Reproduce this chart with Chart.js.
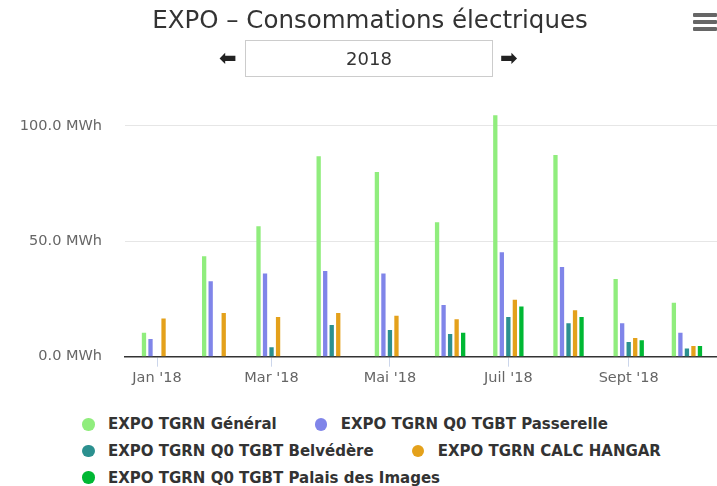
<!DOCTYPE html>
<html>
<head>
<meta charset="utf-8">
<script src="https://cdn.jsdelivr.net/npm/chart.js@4"></script>
<style>
  html, body { margin: 0; padding: 0; background: #fff; }
  body { width: 717px; height: 486px; position: relative; overflow: hidden; font-family: "DejaVu Sans", sans-serif; }
  #title { position: absolute; left: 0; top: 5px; width: 740px; text-align: center; font-size: 24.5px; color: #333; line-height: 30px; white-space: nowrap; }
  #yearbox { position: absolute; left: 245px; top: 40px; width: 246px; height: 35px; border: 1px solid #ccc; text-align: center; line-height: 35px; font-size: 18px; color: #333; }
  .arrow { position: absolute; top: 45px; font-size: 21px; font-weight: bold; color: #222; line-height: 26px; }
  #menu { position: absolute; left: 693px; top: 13px; width: 24px; }
  #menu div { height: 3.5px; background: #666; margin-bottom: 3.5px; border-radius: 1px; }
  #chartWrap { position: absolute; left: 0; top: 0; width: 717px; height: 400px; }
  #legend { position: absolute; left: 82px; top: 411px; font-weight: bold; font-size: 15px; color: #333; }
  .lrow { display: flex; height: 26.7px; align-items: center; white-space: nowrap; }
  .litem { display: flex; align-items: center; margin-right: 38px; flex-shrink: 0; }
  .ldot { display: block; flex: 0 0 12.5px; width: 12.5px; height: 12.5px; min-width: 12.5px; border-radius: 50%; margin-right: 13.5px; }
</style>
</head>
<body>
<div id="chartWrap"><canvas id="c" width="717" height="400"></canvas></div>
<div id="title">EXPO – Consommations électriques</div>
<div class="arrow" id="prev" style="left:219px;">&#x2B05;</div>
<div id="yearbox">2018</div>
<div class="arrow" id="next" style="left:500px;">&#x27A1;</div>
<div id="menu"><div></div><div></div><div></div></div>
<div id="legend"></div>
<script>
// Month start as day-of-year (2018)
const monthDays = [0, 31, 59, 90, 120, 151, 181, 212, 243, 273];
const monthNames = ["Jan '18", "Févr '18", "Mar '18", "Avr '18", "Mai '18", "Juin '18", "Juil '18", "Août '18", "Sept '18", "Oct '18"];
// Axis ticks
const xTickDays = [0, 59, 120, 181, 243];
const xTickLabels = ["Jan '18", "Mar '18", "Mai '18", "Juil '18", "Sept '18"];
const yTickValues = [0, 50, 100];

// Series (MWh)
const seriesNames = ["EXPO TGRN Général", "EXPO TGRN Q0 TGBT Passerelle", "EXPO TGRN Q0 TGBT Belvédère", "EXPO TGRN CALC HANGAR", "EXPO TGRN Q0 TGBT Palais des Images"];
const seriesColors = ["#90ed7d", "#8085e9", "#2b908f", "#e4a11b", "#00b834"];
const general    = [10.4, 43.5, 56.5, 86.9, 80.1, 58.3, 104.6, 87.4, 33.7, 23.4];
const passerelle = [7.7, 32.7, 36.1, 37.1, 36.1, 22.4, 45.3, 38.9, 14.5, 10.4];
const belvedere  = [null, null, 4.1, 13.7, 11.6, 9.8, 17.2, 14.5, 6.4, 3.6];
const hangar     = [16.6, 18.9, 17.2, 18.9, 17.8, 16.2, 24.7, 20.1, 8.1, 4.6];
const palais     = [null, null, null, null, null, 10.4, 21.8, 17.2, 7.1, 4.6];
const seriesValues = [general, passerelle, belvedere, hangar, palais];

const datasets = seriesValues.map((vals, i) => ({
  label: seriesNames[i],
  data: vals.map((v, j) => ({ x: monthDays[j], y: v })),
  backgroundColor: seriesColors[i],
  borderWidth: 0,
  categoryPercentage: 0.6,
  barPercentage: 0.66
}));

const labelFont = { family: "DejaVu Sans", size: 14.5 };

const chart = new Chart(document.getElementById('c'), {
  type: 'bar',
  data: { datasets },
  options: {
    responsive: false,
    animation: false,
    devicePixelRatio: 1,
    layout: { padding: { top: 107.5, right: 0, left: 0, bottom: 0 } },
    plugins: { legend: { display: false }, tooltip: { enabled: false }, title: { display: false } },
    scales: {
      x: {
        type: 'linear',
        min: -16.5,
        max: 288.5,
        offset: false,
        grid: { offset: false, drawOnChartArea: false, drawTicks: true, tickLength: 10, color: '#ccd6eb', lineWidth: 1 },
        border: { display: true, color: '#333333', width: 1.5 },
        afterBuildTicks: (s) => { s.ticks = xTickDays.map(v => ({ value: v })); },
        afterFit: (s) => { s.height = 43.3; },
        ticks: {
          autoSkip: false, maxRotation: 0, padding: 3,
          color: '#666666', font: labelFont,
          callback: (v) => { const k = xTickDays.indexOf(v); return k >= 0 ? xTickLabels[k] : ''; }
        }
      },
      y: {
        min: 0,
        max: 108,
        grid: { color: '#e6e6e6', lineWidth: 1, drawTicks: false },
        border: { display: false },
        afterBuildTicks: (s) => { s.ticks = yTickValues.map(v => ({ value: v })); },
        afterFit: (s) => { s.width = 125; },
        ticks: {
          padding: 23, color: '#666666', font: labelFont,
          callback: (v) => v.toFixed(1) + ' MWh'
        }
      }
    }
  }
});

// HTML legend built from the chart's datasets
const rows = [[0, 1], [2, 3], [4]];
const legend = document.getElementById('legend');
rows.forEach(r => {
  const row = document.createElement('div');
  row.className = 'lrow';
  r.forEach(i => {
    const ds = chart.data.datasets[i];
    const item = document.createElement('div');
    item.className = 'litem';
    const dot = document.createElement('span');
    dot.className = 'ldot';
    dot.style.background = ds.backgroundColor;
    const txt = document.createElement('span');
    txt.textContent = ds.label;
    item.appendChild(dot); item.appendChild(txt);
    row.appendChild(item);
  });
  legend.appendChild(row);
});
</script>
</body>
</html>
